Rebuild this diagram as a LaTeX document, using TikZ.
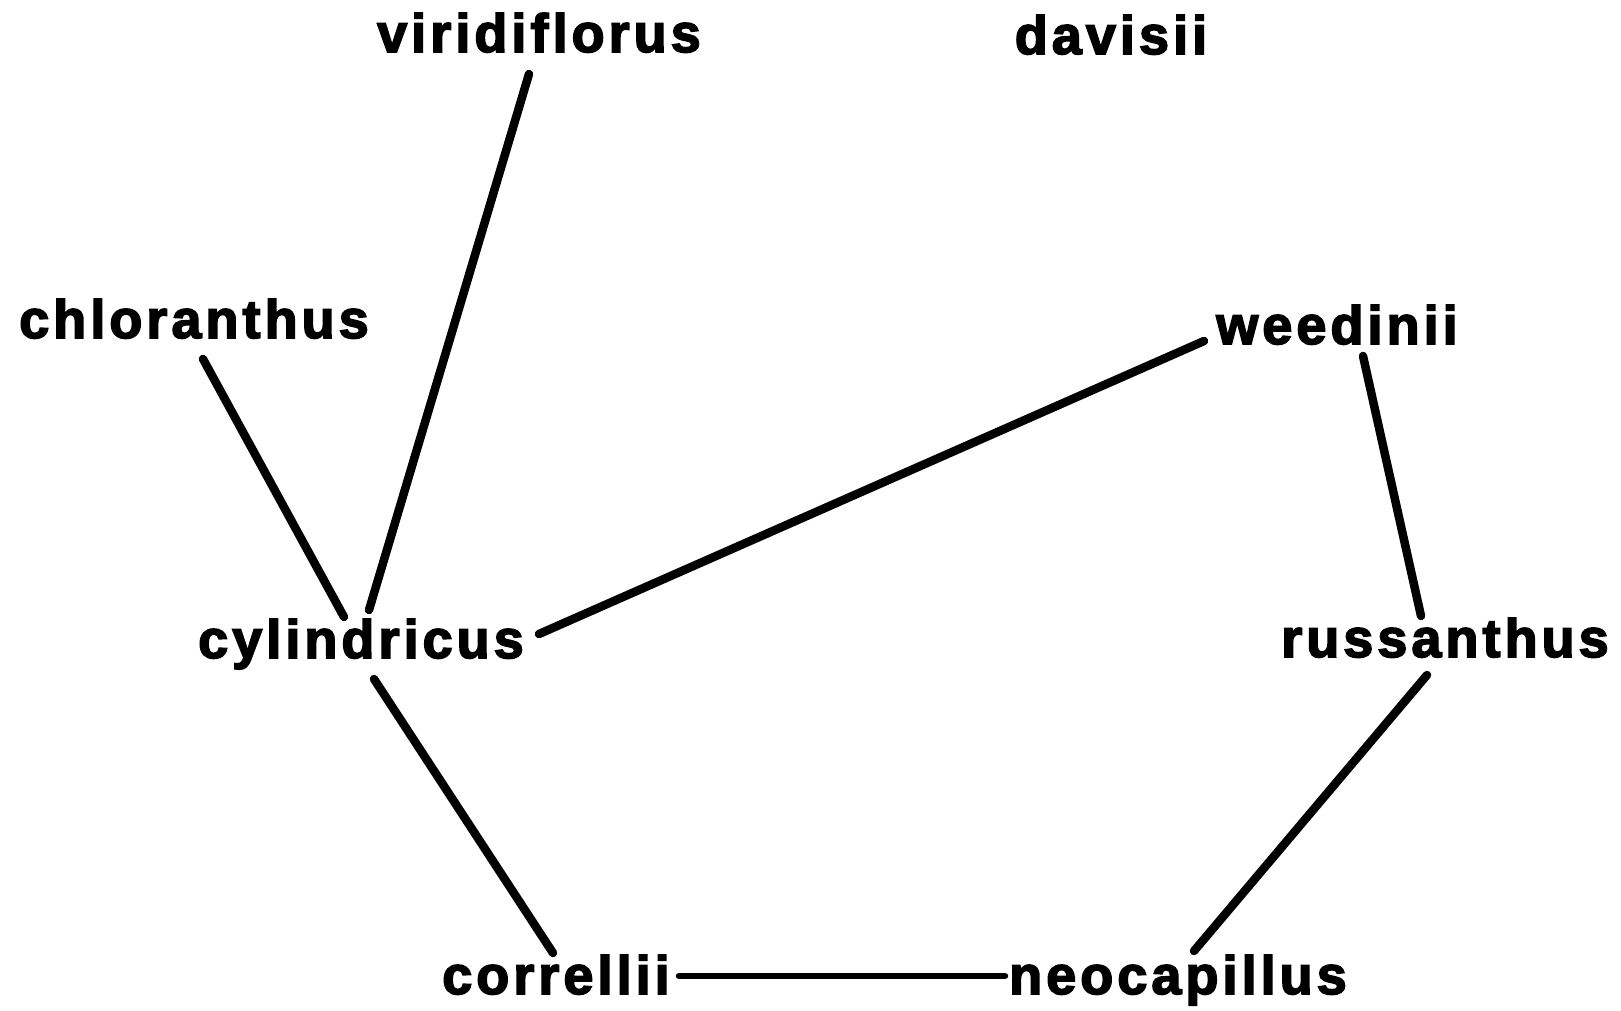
\documentclass[tikz,border=0pt]{standalone}
\usepackage{fontspec}
\newfontfamily\lblfont[LetterSpace=7.5,FakeBold=3]{Liberation Sans}
\begin{document}
\begin{tikzpicture}[x=1pt,y=-1pt,
  lbl/.style={inner sep=0pt,anchor=base,font=\lblfont\bfseries\fontsize{54}{54}\selectfont},
  edge/.style={line width=8.5pt,line cap=round}]
\useasboundingbox (0,0) rectangle (1621,1011);
\node[lbl] (viri) at (539,52) {viridiflorus};
\node[lbl] (davi) at (1111,54) {davisii};
\node[lbl] (chlo) at (194,338) {chloranthus};
\node[lbl] (weed) at (1337,344) {weedinii};
\node[lbl] (cyli) at (361,658) {cylindricus};
\node[lbl] (russ) at (1445,657) {russanthus};
\node[lbl] (corr) at (556,994) {correllii};
\node[lbl] (neoc) at (1178,994) {neocapillus};
% connector ends
\coordinate (v1) at (529,74);  \coordinate (c1) at (369,610);
\coordinate (h1) at (203,359); \coordinate (c2) at (344,617);
\coordinate (w1) at (1204,341);\coordinate (c3) at (539,634);
\coordinate (w2) at (1363,356);\coordinate (r1) at (1421,616);
\coordinate (c4) at (374,679); \coordinate (o1) at (553,953);
\coordinate (r2) at (1427,675);\coordinate (n1) at (1194,951);
\coordinate (o2) at (679,976); \coordinate (n2) at (1005,976);
\draw[edge] (v1) -- (c1);
\draw[edge] (h1) -- (c2);
\draw[edge] (w1) -- (c3);
\draw[edge] (w2) -- (r1);
\draw[edge] (c4) -- (o1);
\draw[edge] (r2) -- (n1);
\draw[edge,line width=6.5pt] (o2) -- (n2);
\end{tikzpicture}
\end{document}
